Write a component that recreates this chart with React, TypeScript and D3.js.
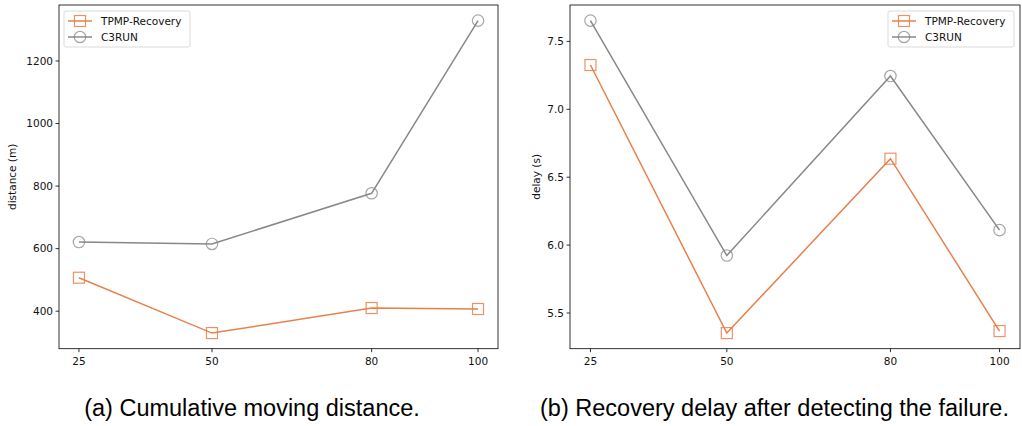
import React from "react";
import * as d3 from "d3";

const nodes = [25, 50, 80, 100];
const distTPMP = [507, 330, 410, 407];
const distC3RUN = [621, 615, 777, 1329];
const delayTPMP = [7.326, 5.352, 6.636, 5.367];
const delayC3RUN = [7.653, 5.923, 7.245, 6.11];
const distTicks = [400, 600, 800, 1000, 1200];
const delayTicks = [5.5, 6.0, 6.5, 7.0, 7.5];
const seriesNames = ["TPMP-Recovery", "C3RUN"];
const captions = ["(a) Cumulative moving distance.", "(b) Recovery delay after detecting the failure."];

const ORANGE = "#e8804c";
const GRAY = "#888888";
const FONT = "DejaVu Sans, sans-serif";

type PanelProps = {
  x0: number; x1: number; y0: number; y1: number;
  a: number[]; b: number[]; ticks: number[]; fmt: (v: number) => string;
  ylabel: string; ylabelX: number; legendX: number; caption: string; captionX: number;
};

function Panel(p: PanelProps) {
  const xs = d3.scaleLinear().domain([25 - 3.75, 100 + 3.75]).range([p.x0, p.x1]);
  const all = [...p.a, ...p.b];
  const mn = d3.min(all)!, mx = d3.max(all)!;
  const m = (mx - mn) * 0.05;
  const ys = d3.scaleLinear().domain([mn - m, mx + m]).range([p.y1, p.y0]);
  const line = d3.line<number>().x((_, i) => xs(nodes[i])).y((d) => ys(d));
  const sq = 11;
  const r = 5.7;
  return (
    <g>
      <path d={line(p.b)!} fill="none" stroke={GRAY} strokeWidth={1.5} />
      <path d={line(p.a)!} fill="none" stroke={ORANGE} strokeWidth={1.5} />
      {p.b.map((v, i) => (
        <circle key={"c" + i} cx={xs(nodes[i])} cy={ys(v)} r={r} fill="none" stroke={GRAY} strokeOpacity={0.75} strokeWidth={1.2} />
      ))}
      {p.a.map((v, i) => (
        <rect key={"s" + i} x={xs(nodes[i]) - sq / 2} y={ys(v) - sq / 2} width={sq} height={sq} fill="none" stroke={ORANGE} strokeOpacity={0.85} strokeWidth={1.2} />
      ))}
      <rect x={p.x0} y={p.y0} width={p.x1 - p.x0} height={p.y1 - p.y0} fill="none" stroke="#000" strokeWidth={0.8} />
      {nodes.map((n) => (
        <g key={"xt" + n}>
          <line x1={xs(n)} x2={xs(n)} y1={p.y1} y2={p.y1 + 3.5} stroke="#000" strokeWidth={0.8} />
          <text x={xs(n)} y={p.y1 + 16} textAnchor="middle" fontSize={10.5} fontFamily={FONT} fill="#111">{n}</text>
        </g>
      ))}
      {p.ticks.map((t) => (
        <g key={"yt" + t}>
          <line x1={p.x0 - 3.5} x2={p.x0} y1={ys(t)} y2={ys(t)} stroke="#000" strokeWidth={0.8} />
          <text x={p.x0 - 6} y={ys(t)} dy="0.35em" textAnchor="end" fontSize={10.5} fontFamily={FONT} fill="#111">{p.fmt(t)}</text>
        </g>
      ))}
      <text transform={`translate(${p.ylabelX},${(p.y0 + p.y1) / 2}) rotate(-90)`} textAnchor="middle" fontSize={10.5} fontFamily={FONT} fill="#111">{p.ylabel}</text>
      <g transform={`translate(${p.legendX},11)`}>
        <rect x={0} y={0} width={126} height={36} rx={2} fill="#fff" fillOpacity={0.8} stroke="#d0d0d0" strokeWidth={0.8} />
        {seriesNames.map((s, i) => {
          const cy = 10 + i * 16;
          const col = i === 0 ? ORANGE : GRAY;
          return (
            <g key={s}>
              <line x1={4} x2={28} y1={cy} y2={cy} stroke={col} strokeWidth={1.5} />
              {i === 0 ? (
                <rect x={16 - sq / 2} y={cy - sq / 2} width={sq} height={sq} fill="none" stroke={col} strokeOpacity={0.85} strokeWidth={1.2} />
              ) : (
                <circle cx={16} cy={cy} r={r} fill="none" stroke={col} strokeOpacity={0.75} strokeWidth={1.2} />
              )}
              <text x={37} y={cy} dy="0.35em" fontSize={10.5} fontFamily={FONT} fill="#111">{s}</text>
            </g>
          );
        })}
      </g>
      <text x={p.captionX} y={416} textAnchor="middle" fontSize={23.5} fontFamily="Liberation Sans, Arial, sans-serif" fill="#000">{p.caption}</text>
    </g>
  );
}

export default function App() {
  return (
    <svg width={1022} height={426} style={{ position: "absolute", left: 0, top: 0, background: "#fff" }}>
      <rect width={1022} height={426} fill="#fff" />
      <Panel x0={59} x1={498} y0={5} y1={348.7} a={distTPMP} b={distC3RUN} ticks={distTicks}
        fmt={(v) => String(v)} ylabel="distance (m)" ylabelX={16} legendX={64} caption={captions[0]} captionX={252} />
      <Panel x0={570} x1={1020} y0={5} y1={348.7} a={delayTPMP} b={delayC3RUN} ticks={delayTicks}
        fmt={(v) => v.toFixed(1)} ylabel="delay (s)" ylabelX={540} legendX={888} caption={captions[1]} captionX={774.5} />
    </svg>
  );
}
